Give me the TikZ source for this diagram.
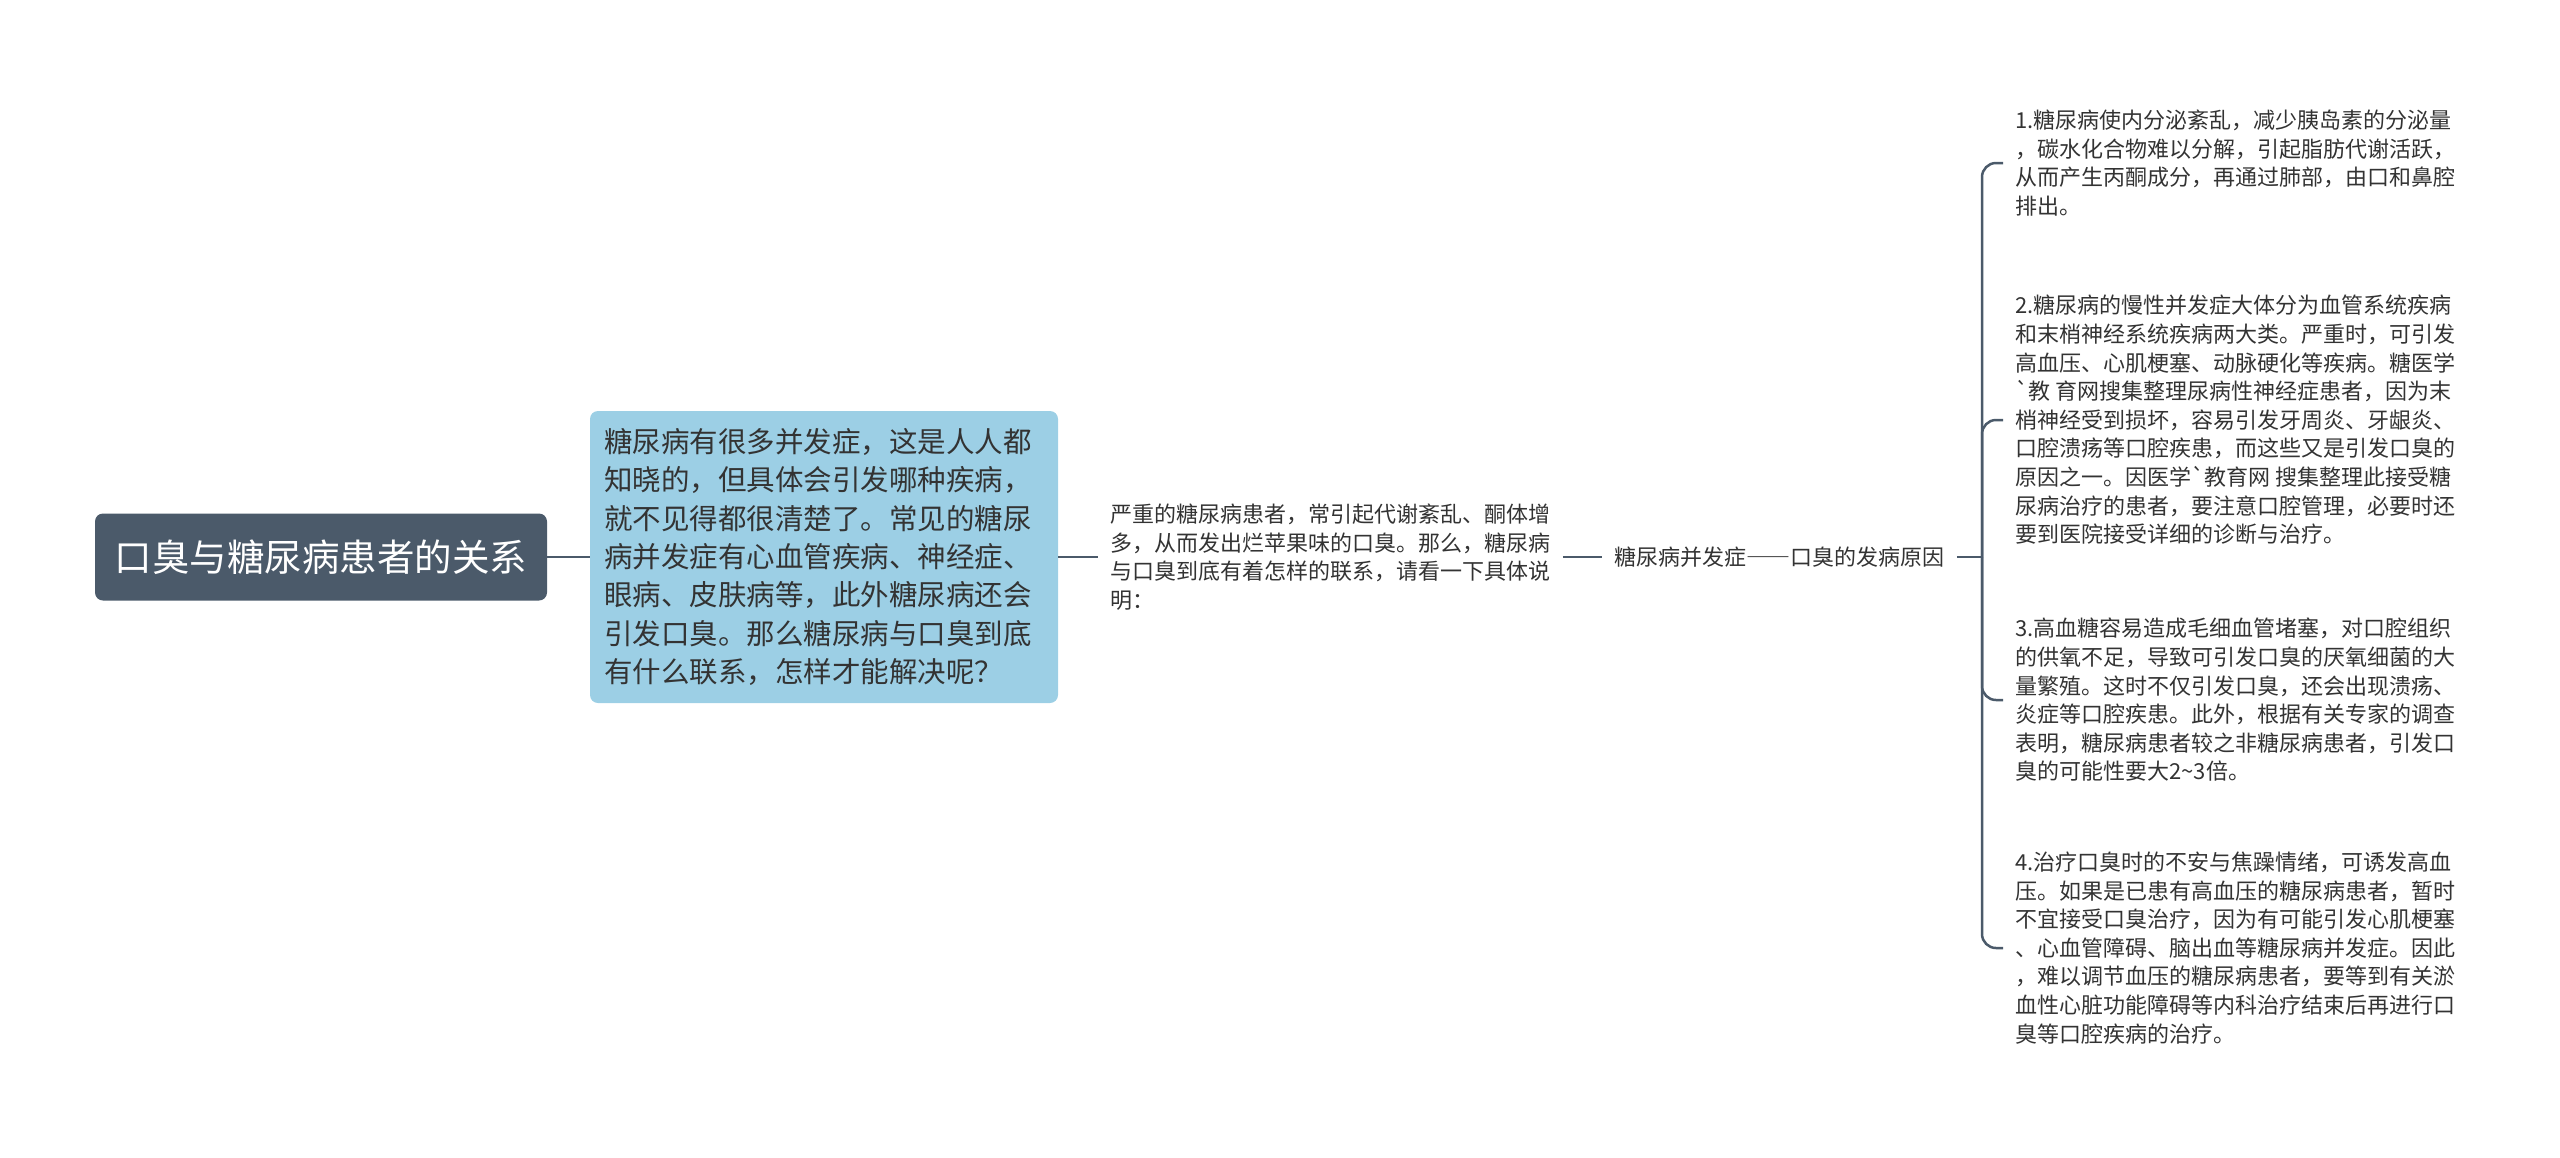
\documentclass[tikz,border=0pt]{standalone}
\usepackage{fontspec}
\setmainfont{Noto Sans CJK SC}

\definecolor{slate}{HTML}{4B5A6A}
\definecolor{skyblue}{HTML}{9CCFE5}
\definecolor{inkgray}{HTML}{333333}

\tikzset{
  link/.style={draw=slate, line width=1.25pt},
  rootbox/.style={fill=slate, rounded corners=4pt, text=white,
    font=\fontsize{18.75}{22}\selectfont,
    minimum width=226pt, minimum height=43.5pt, inner sep=0pt},
  introbox/.style={fill=skyblue, rounded corners=4pt, text=inkgray,
    font=\fontsize{14.25}{19.2}\selectfont, align=left,
    text width=220pt, inner xsep=7pt,
    minimum width=234pt, minimum height=146pt},
  note/.style={text=inkgray, font=\fontsize{11}{14.3}\selectfont,
    align=left, inner xsep=6pt, inner ysep=2pt},
}

\begin{document}
\begin{tikzpicture}[x=0.5pt, y=-0.5pt]
  \useasboundingbox (0,0) rectangle (2560,1157);

  % 根节点
  \node[rootbox] (root) at (321,557) {口臭与糖尿病患者的关系};

  % 引言
  \node[introbox] (intro) at (824,557) {糖尿病有很多并发症，这是人人都\\
    知晓的，但具体会引发哪种疾病，\\
    就不见得都很清楚了。常见的糖尿\\
    病并发症有心血管疾病、神经症、\\
    眼病、皮肤病等，此外糖尿病还会\\
    引发口臭。那么糖尿病与口臭到底\\
    有什么联系，怎样才能解决呢？};

  \node[note, anchor=west] (detail) at (1098,557) {严重的糖尿病患者，常引起代谢紊乱、酮体增\\
    多，从而发出烂苹果味的口臭。那么，糖尿病\\
    与口臭到底有着怎样的联系，请看一下具体说\\
    明：};

  \node[note, anchor=west] (cause) at (1602,557)
    {糖尿病并发症{\addfontfeature{CharacterWidth=Full}——}口臭的发病原因};
  \coordinate (hub) at (1982,557);

  % 四条原因
  \node[note, anchor=west] (why1) at (2003,163) {1.糖尿病使内分泌紊乱，减少胰岛素的分泌量\\
    ，碳水化合物难以分解，引起脂肪代谢活跃，\\
    从而产生丙酮成分，再通过肺部，由口和鼻腔\\
    排出。};
  \node[note, anchor=west] (why2) at (2003,420) {2.糖尿病的慢性并发症大体分为血管系统疾病\\
    和末梢神经系统疾病两大类。严重时，可引发\\
    高血压、心肌梗塞、动脉硬化等疾病。糖医学\\
    \textasciigrave 教 育网搜集整理尿病性神经症患者，因为末\\
    梢神经受到损坏，容易引发牙周炎、牙龈炎、\\
    口腔溃疡等口腔疾患，而这些又是引发口臭的\\
    原因之一。因医学\textasciigrave 教育网 搜集整理此接受糖\\
    尿病治疗的患者，要注意口腔管理，必要时还\\
    要到医院接受详细的诊断与治疗。};
  \node[note, anchor=west] (why3) at (2003,700) {3.高血糖容易造成毛细血管堵塞，对口腔组织\\
    的供氧不足，导致可引发口臭的厌氧细菌的大\\
    量繁殖。这时不仅引发口臭，还会出现溃疡、\\
    炎症等口腔疾患。此外，根据有关专家的调查\\
    表明，糖尿病患者较之非糖尿病患者，引发口\\
    臭的可能性要大2\textasciitilde 3倍。};
  \node[note, anchor=west] (why4) at (2003,948) {4.治疗口臭时的不安与焦躁情绪，可诱发高血\\
    压。如果是已患有高血压的糖尿病患者，暂时\\
    不宜接受口臭治疗，因为有可能引发心肌梗塞\\
    、心血管障碍、脑出血等糖尿病并发症。因此\\
    ，难以调节血压的糖尿病患者，要等到有关淤\\
    血性心脏功能障碍等内科治疗结束后再进行口\\
    臭等口腔疾病的治疗。};

  % 连线
  \draw[link] (root) -- (intro);
  \draw[link] (intro) -- (detail);
  \draw[link] (detail) -- (cause);
  \draw[link] (cause) -- (hub);
  \foreach \n in {why1,why2,why3,why4}
    \draw[link, rounded corners=7pt] (hub) |- (\n.west);
\end{tikzpicture}
\end{document}
